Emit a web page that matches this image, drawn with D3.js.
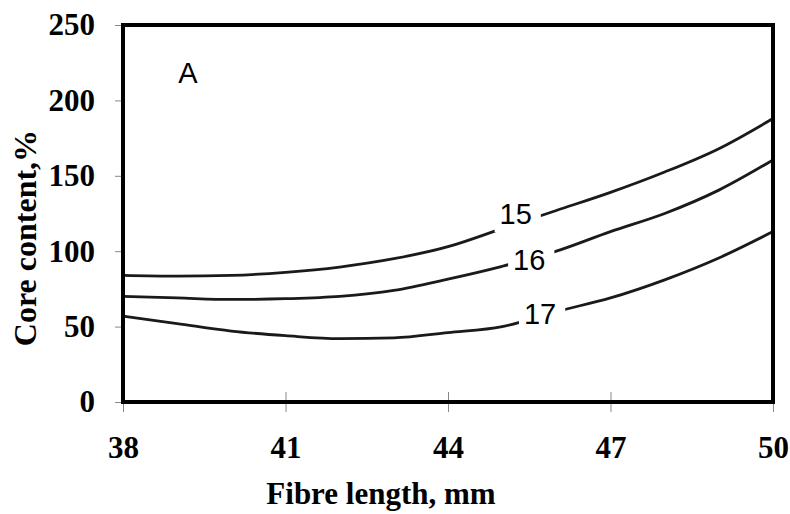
<!DOCTYPE html>
<html>
<head>
<meta charset="utf-8">
<script src="https://cdn.jsdelivr.net/npm/d3@7/dist/d3.min.js"></script>
<style>
  html, body { margin: 0; padding: 0; background: #fff; }
  svg { display: block; }
</style>
</head>
<body>
<svg id="chart" width="790" height="514"></svg>
<script>
// Fibre length (mm) sampled at each integer position
const fibreLength = [38, 39, 40, 41, 42, 43, 44, 45, 46, 47, 48, 49, 50];

// Core content (%) contour lines for three levels
const core15 = [84, 83.5, 84, 86, 89.5, 95, 103, 115, 127, 139, 152.5, 168, 188];
const core16 = [70, 69, 68, 68.5, 70, 74, 81.5, 90, 100, 113, 125, 140.5, 160.5];
const core17 = [57, 52, 47, 44, 42, 42.5, 46, 50, 60, 69, 81, 95.5, 113];

const seriesNames = ["15", "16", "17"];
const seriesValues = [core15, core16, core17];
// Label anchor positions in data units (fibre length, core content)
const labelX = [45.25, 45.5, 45.7];
const labelY = [124.5, 94, 58.5];

const xTicks = [38, 41, 44, 47, 50];
const yTicks = [0, 50, 100, 150, 200, 250];

const svg = d3.select("#chart");
const x = d3.scaleLinear().domain([38, 50]).range([123, 773]);
const y = d3.scaleLinear().domain([0, 250]).range([402, 25]);

const serif = "'Liberation Serif', 'Times New Roman', serif";
const sans = "'Liberation Sans', Arial, sans-serif";

// Axes: thin tick marks, bold serif labels
const yAxis = d3.axisLeft(y).tickValues(yTicks).tickSize(8).tickPadding(20);
const gy = svg.append("g").attr("transform", `translate(${x(38)},0)`).call(yAxis);
gy.select(".domain").remove();
gy.selectAll(".tick line").attr("stroke", "#888").attr("stroke-width", 1);
gy.selectAll(".tick text")
  .attr("font-family", serif).attr("font-weight", "bold")
  .attr("font-size", 31).attr("fill", "#000");

const xAxis = d3.axisBottom(x).tickValues(xTicks).tickSize(10).tickPadding(24);
const gx = svg.append("g").attr("transform", `translate(0,${y(0)})`).call(xAxis);
gx.select(".domain").remove();
gx.selectAll(".tick line").attr("stroke", "#888").attr("stroke-width", 1).attr("y1", -10);
gx.selectAll(".tick text")
  .attr("font-family", serif).attr("font-weight", "bold")
  .attr("font-size", 31).attr("fill", "#000");

// Contour curves
const line = d3.line()
  .x((d, i) => x(fibreLength[i]))
  .y(d => y(d))
  .curve(d3.curveMonotoneX);

svg.append("g").selectAll("path")
  .data(seriesValues)
  .join("path")
  .attr("d", line)
  .attr("fill", "none")
  .attr("stroke", "#1a1a1a")
  .attr("stroke-width", 2.8);

// Level labels sitting in gaps of their curves
const labels = svg.append("g");
seriesNames.forEach((name, i) => {
  const g = labels.append("g");
  const bg = g.append("rect").attr("fill", "#fff");
  const t = g.append("text")
    .attr("x", x(labelX[i]))
    .attr("y", y(labelY[i]))
    .attr("text-anchor", "middle")
    .attr("dominant-baseline", "central")
    .attr("font-family", sans)
    .attr("font-size", 29)
    .attr("fill", "#000")
    .text(name);
  const b = t.node().getBBox();
  bg.attr("x", b.x - 5).attr("y", b.y - 2)
    .attr("width", b.width + 14).attr("height", b.height + 4);
});

// Panel letter
svg.append("text")
  .attr("x", 188).attr("y", 83)
  .attr("text-anchor", "middle")
  .attr("font-family", sans)
  .attr("font-size", 29)
  .attr("fill", "#000")
  .text("A");

// Plot frame
svg.append("rect")
  .attr("x", x(38)).attr("y", y(250))
  .attr("width", x(50) - x(38)).attr("height", y(0) - y(250))
  .attr("fill", "none").attr("stroke", "#000").attr("stroke-width", 4);

// Axis titles
svg.append("text")
  .attr("x", 381).attr("y", 504)
  .attr("text-anchor", "middle")
  .attr("font-family", serif).attr("font-weight", "bold")
  .attr("font-size", 31).attr("fill", "#000")
  .text("Fibre length, mm");

svg.append("text")
  .attr("transform", "translate(36,238) rotate(-90)")
  .attr("text-anchor", "middle")
  .attr("font-family", serif).attr("font-weight", "bold")
  .attr("font-size", 32).attr("fill", "#000")
  .text("Core content,%");
</script>
</body>
</html>
